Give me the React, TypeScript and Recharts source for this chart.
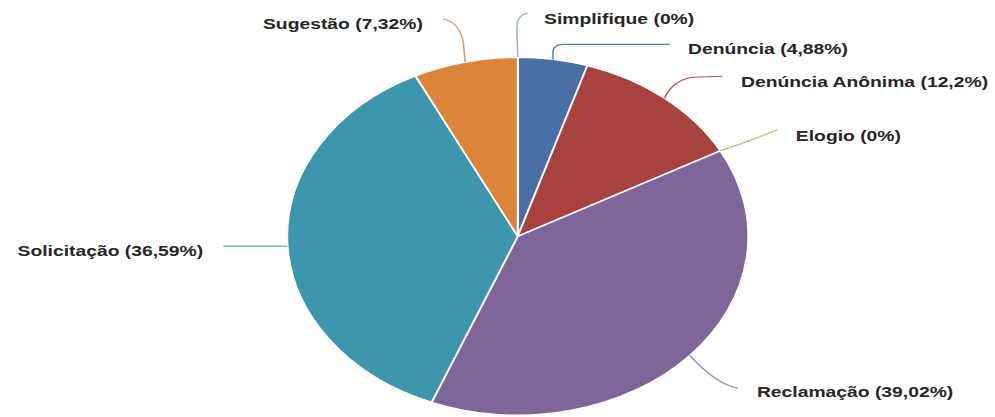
import React from 'react';
import { PieChart, Pie, Cell } from 'recharts';

// ---- data ----
const categories = ['Simplifique', 'Denúncia', 'Denúncia Anônima', 'Elogio', 'Reclamação', 'Solicitação', 'Sugestão'];
const values = [0, 4.88, 12.2, 0, 39.02, 36.59, 7.32];

// ---- styles ----
const sliceColors = ['#7f9cc4', '#4a6fa6', '#a8423f', '#9bbb59', '#7e669b', '#3d96ad', '#dc8538'];
const lineColors = ['#9fb3cc', '#5b7ea9', '#b4524f', '#a9c26c', '#9a90a8', '#62a5b8', '#d49a68'];

// horizontal stretch of the original picture
const K = 1.288;
const W = 773;
const H = 417;
const CX = 402;
const CY = 236.3;
const R = 179;

// leader line segments, offsets in page pixels from the slice's outer mid point
type Seg = [string, ...number[]];
const LEADERS: Seg[][] = [
  [['L', -1, -28], ['Q', -1, -43, 10, -44]],
  [['L', 0, -8], ['Q', 1, -15, 10, -15], ['L', 117, -15]],
  [['Q', 8, -18, 28, -21], ['L', 58, -22]],
  [['Q', 30, -10, 57, -21]],
  [['Q', 25, 28, 48, 33]],
  [['M', 0, 3], ['L', -64, 3]],
  [['L', -2, -20], ['Q', -6, -40, -22, -43]],
];
// text position offsets (page px) from the same point; y is the text's vertical center
const TEXT_POS: { dx: number; dy: number; anchor: 'start' | 'end' }[] = [
  { dx: 26.3, dy: -39, anchor: 'start' },
  { dx: 135, dy: -11.1, anchor: 'start' },
  { dx: 76.5, dy: -17, anchor: 'start' },
  { dx: 75.5, dy: -15.3, anchor: 'start' },
  { dx: 67, dy: 36, anchor: 'start' },
  { dx: -84.2, dy: 7.6, anchor: 'end' },
  { dx: -42.4, dy: -38, anchor: 'end' },
];

const data = categories.map((name, i) => ({ name, value: values[i] }));
const fmt = (v: number) => `${String(v).replace('.', ',')}%`;
const RAD = Math.PI / 180;

function renderLabel(props: any) {
  const { cx, cy, midAngle, outerRadius, index } = props;
  const ax = cx + outerRadius * Math.cos(-midAngle * RAD);
  const ay = cy + outerRadius * Math.sin(-midAngle * RAD);
  const px = (dx: number) => ax + dx / K;
  const py = (dy: number) => ay + dy;
  const segs = LEADERS[index] || [];
  let d = '';
  let started = false;
  segs.forEach((s) => {
    const [cmd, ...n] = s;
    if (cmd === 'M') {
      d += `M${px(n[0])},${py(n[1])}`;
      started = true;
      return;
    }
    if (!started) {
      d += `M${ax},${ay}`;
      started = true;
    }
    if (cmd === 'L') d += ` L${px(n[0])},${py(n[1])}`;
    if (cmd === 'Q') d += ` Q${px(n[0])},${py(n[1])} ${px(n[2])},${py(n[3])}`;
  });
  const tp = TEXT_POS[index];
  return (
    <g key={`lbl-${index}`}>
      <path d={d} fill="none" stroke={lineColors[index]} strokeWidth={1.2} />
      <text
        x={px(tp.dx)}
        y={py(tp.dy) + 5.4}
        textAnchor={tp.anchor}
        fontFamily="'Liberation Sans', Arial, sans-serif"
        fontWeight="bold"
        fontSize={15}
        fill="#262626"
      >
        {`${categories[index]} (${fmt(values[index])})`}
      </text>
    </g>
  );
}

export default function App() {
  return (
    <div
      style={{
        position: 'absolute',
        left: 0,
        top: 0,
        width: W,
        height: H,
        transform: `scaleX(${K})`,
        transformOrigin: '0 0',
        background: '#fff',
      }}
    >
      <PieChart width={W} height={H} margin={{ top: 0, right: 0, bottom: 0, left: 0 }}>
        <Pie
          data={data}
          dataKey="value"
          nameKey="name"
          cx={CX}
          cy={CY}
          outerRadius={R}
          startAngle={90}
          endAngle={-270}
          stroke="#ffffff"
          strokeWidth={1.5}
          label={renderLabel}
          labelLine={false}
          isAnimationActive={false}
        >
          {data.map((_, i) => (
            <Cell key={i} fill={sliceColors[i]} />
          ))}
        </Pie>
      </PieChart>
    </div>
  );
}
